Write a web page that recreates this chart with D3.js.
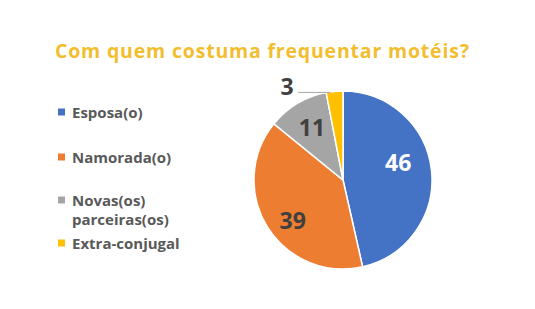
<!DOCTYPE html>
<html>
<head>
<meta charset="utf-8">
<script src="https://cdn.jsdelivr.net/npm/d3@7"></script>
<style>
  body { margin: 0; background: #fff; }
  text { font-family: "Open Sans", "Noto Sans", sans-serif; }
</style>
</head>
<body>
<svg width="535" height="309"></svg>
<script>
// dados do gráfico
const categories = ['Esposa(o)', 'Namorada(o)', 'Novas(os) parceiras(os)', 'Extra-conjugal'];
const legendLines = [['Esposa(o)'], ['Namorada(o)'], ['Novas(os)', 'parceiras(os)'], ['Extra-conjugal']];
const values = [46, 39, 11, 3];
const colors = ['#4472C4', '#ED7D31', '#A5A5A5', '#FFC000'];

const svg = d3.select('svg');

// título
svg.append('text')
  .attr('x', 262)
  .attr('y', 58)
  .attr('text-anchor', 'middle')
  .attr('fill', '#F2BE2E')
  .attr('font-size', 19.5)
  .attr('font-weight', 'bold')
  .attr('textLength', 414)
  .attr('lengthAdjust', 'spacing')
  .text('Com quem costuma frequentar motéis?');

// legenda
const legendY = [112, 157, 200, 243];
const legend = svg.append('g');
legendLines.forEach((lines, i) => {
  legend.append('rect')
    .attr('x', 58)
    .attr('y', legendY[i] - 3.5)
    .attr('width', 7)
    .attr('height', 7)
    .attr('fill', colors[i]);
  lines.forEach((l, j) => {
    legend.append('text')
      .attr('x', 72)
      .attr('y', legendY[i] + 5.5 + j * 19)
      .attr('fill', '#595959')
      .attr('font-size', 15)
      .attr('font-weight', 'bold')
      .text(l);
  });
});

// pizza
const cx = 343, cy = 180, r = 89;
const pie = d3.pie().sort(null).value(d => d);
const arcs = pie(values);
const arc = d3.arc().innerRadius(0).outerRadius(r);

const g = svg.append('g').attr('transform', `translate(${cx},${cy})`);
g.selectAll('path')
  .data(arcs)
  .enter().append('path')
    .attr('d', arc)
    .attr('fill', (d, i) => colors[i])
    .attr('stroke', '#fff')
    .attr('stroke-width', 1.5);

// rótulos (posição "melhor ajuste")
const labelColors = ['#ffffff', '#404040', '#404040', '#404040'];
const labelRadius = [0.65, 0.73, 0.68, 1];
const labelShift = [-0.19, -0.13, 0, 0];
arcs.forEach((d, i) => {
  const a = (d.startAngle + d.endAngle) / 2 + labelShift[i];
  let x = Math.sin(a) * r * labelRadius[i];
  let y = -Math.cos(a) * r * labelRadius[i];
  if (i === 3) {
    // rótulo externo com linha
    const ex = Math.sin(a) * r, ey = -Math.cos(a) * r;
    g.append('line')
      .attr('x1', ex - 4).attr('y1', ey + 1)
      .attr('x2', -45).attr('y2', ey + 1)
      .attr('stroke', '#A6A6A6')
      .attr('stroke-width', 1);
    x = -56; y = ey - 5;
  }
  g.append('text')
    .attr('x', x)
    .attr('y', y)
    .attr('dy', '0.36em')
    .attr('text-anchor', 'middle')
    .attr('fill', labelColors[i])
    .attr('font-size', 23)
    .attr('font-weight', 'bold')
    .text(values[i]);
});
</script>
</body>
</html>
